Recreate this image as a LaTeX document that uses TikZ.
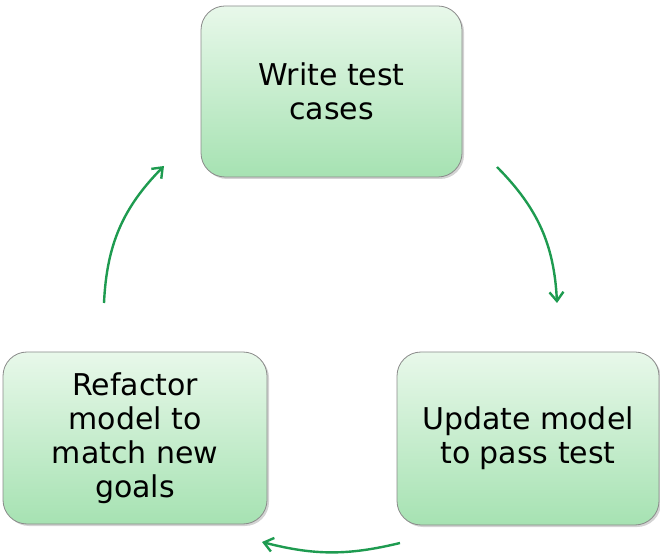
\documentclass[tikz,border=0pt]{standalone}
\usepackage{fontspec}
\setmainfont{DejaVu Sans}
\usetikzlibrary{arrows.meta,shadows}
\definecolor{boxtop}{HTML}{E8F8EA}
\definecolor{boxbot}{HTML}{A6E2B2}
\definecolor{boxline}{HTML}{8A8A8A}
\definecolor{arrowgreen}{HTML}{1E9B50}
\tikzset{
  stepbox/.style={draw=boxline, line width=0.8pt, rounded corners=24pt,
    top color=boxtop, bottom color=boxbot, align=center,
    font=\fontsize{30}{34}\selectfont, text=black, inner sep=0pt,
    drop shadow={opacity=0.35, shadow xshift=2pt, shadow yshift=-2pt}},
  cyclearrow/.style={draw=arrowgreen, line width=2.4pt,
    -{Straight Barb[length=9pt,width=14pt,line width=2.4pt]}}
}
\begin{document}
\begin{tikzpicture}[x=1pt,y=1pt]
\useasboundingbox (0,0) rectangle (660,559);
\node[stepbox, minimum width=261pt, minimum height=171pt] (write) at (331.5,467.5) {Write test\\cases};
\node[stepbox, minimum width=262pt, minimum height=173pt] (update) at (528,120.5) {Update model\\to pass test};
\node[stepbox, minimum width=264pt, minimum height=172pt] (refactor) at (135,121) {Refactor\\model to\\match new\\goals};
\coordinate (a1s) at (497,392);
\coordinate (a1e) at (557,256);
\coordinate (a2s) at (400,16);
\coordinate (a2e) at (262,17);
\coordinate (a3s) at (104,256);
\coordinate (a3e) at (164,393);
\draw[cyclearrow] (a1s) to[bend left=21] (a1e);
\draw[cyclearrow] (a2s) to[bend left=14] (a2e);
\draw[cyclearrow] (a3s) to[bend left=21] (a3e);
\end{tikzpicture}
\end{document}
